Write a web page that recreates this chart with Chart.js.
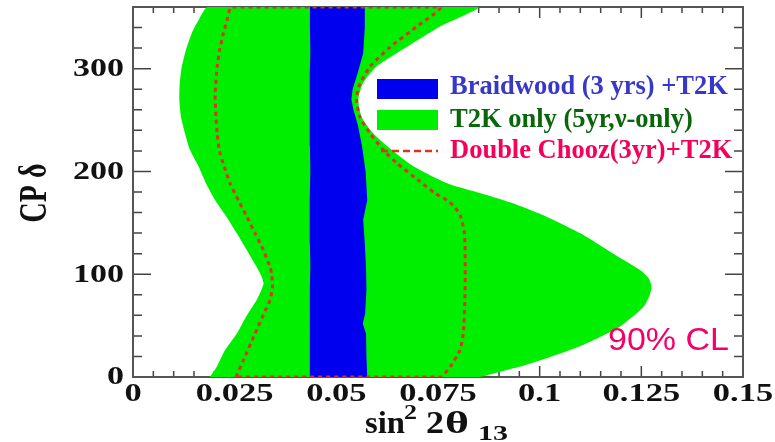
<!DOCTYPE html>
<html>
<head>
<meta charset="utf-8">
<script src="https://cdn.jsdelivr.net/npm/chart.js@4"></script>
<style>
  html, body { margin: 0; padding: 0; background: #fff; }
</style>
</head>
<body>
<canvas id="cl" width="775" height="442"></canvas>
<script>
// axis ticks
const xTicks = [0, 0.025, 0.05, 0.075, 0.1, 0.125, 0.15];
const xTickLabels = ['0', '0.025', '0.05', '0.075', '0.1', '0.125', '0.15'];
const yTicks = [0, 100, 200, 300];
const yTickLabels = ['0', '100', '200', '300'];

// T2K only (5yr, nu-only) 90% CL region: left and right edge vs CP delta
const t2kLeftDelta = [0, 10, 26, 42, 58, 75, 84, 91, 98, 107, 124, 140, 156, 172, 188, 205, 221, 237, 253, 270, 286, 302, 318, 334, 347, 360];
const t2kLeftX = [0.0189, 0.0206, 0.0226, 0.0255, 0.0277, 0.0304, 0.0315, 0.0321, 0.0316, 0.0304, 0.0279, 0.0255, 0.0230, 0.0202, 0.0180, 0.0161, 0.0140, 0.0128, 0.0118, 0.0114, 0.0115, 0.0120, 0.0130, 0.0144, 0.0161, 0.0184];
const t2kRightDelta = [0, 13, 30, 49, 68, 80, 88, 96, 104, 120, 140, 156, 169, 179, 188, 205, 221, 237, 253, 270, 286, 302, 321, 341, 360];
const t2kRightX = [0.0853, 0.0976, 0.1099, 0.1197, 0.1255, 0.1271, 0.1275, 0.1268, 0.1247, 0.1181, 0.1099, 0.1017, 0.0934, 0.0853, 0.0775, 0.0689, 0.0636, 0.0591, 0.0562, 0.0554, 0.0566, 0.0599, 0.0673, 0.0755, 0.0848];

// Braidwood (3 yrs) + T2K band
const bwDelta = [0, 20, 42, 52, 62, 85, 107, 130, 153, 172, 200, 225, 245, 260, 270, 280, 295, 315, 340, 360];
const bwLeftX = [0.0434, 0.0435, 0.0435, 0.0434, 0.0435, 0.0435, 0.0436, 0.0435, 0.0434, 0.0435, 0.0436, 0.0435, 0.0435, 0.0434, 0.0434, 0.0435, 0.0435, 0.0436, 0.0435, 0.0435];
const bwRightX = [0.0576, 0.0574, 0.0573, 0.0565, 0.0571, 0.0574, 0.0573, 0.0570, 0.0566, 0.0576, 0.0572, 0.0563, 0.0553, 0.0542, 0.0537, 0.0540, 0.0552, 0.0566, 0.0570, 0.0570];

// Double Chooz (3yr) + T2K contour
const dcLeftDelta = [0, 16, 42, 60, 75, 88, 100, 107, 124, 140, 156, 172, 188, 205, 221, 237, 253, 276, 302, 318, 334, 347, 360];
const dcLeftX = [0.0253, 0.0271, 0.0300, 0.0320, 0.0337, 0.0343, 0.0341, 0.0337, 0.0320, 0.0300, 0.0280, 0.0259, 0.0239, 0.0224, 0.0212, 0.0207, 0.0204, 0.0202, 0.0207, 0.0213, 0.0222, 0.0231, 0.0243];
const dcRightDelta = [0, 10, 26, 42, 75, 107, 140, 156, 166, 172, 179, 192, 208, 221, 237, 253, 269, 282, 302, 321, 341, 360];
const dcRightX = [0.0755, 0.0780, 0.0804, 0.0812, 0.0816, 0.0817, 0.0815, 0.0806, 0.0790, 0.0772, 0.0742, 0.0700, 0.0649, 0.0615, 0.0583, 0.0558, 0.0550, 0.0554, 0.0583, 0.0632, 0.0698, 0.0755];

const legendLabels = ['Braidwood (3 yrs) +T2K', 'T2K only (5yr,\u03bd-only)', 'Double Chooz(3yr)+T2K'];
const clLabel = '90% CL';

const GREEN = '#00ee00';
const BLUE = '#0000ee';
const RED = '#e0301e';
const SERIF = '"Liberation Serif", "Times New Roman", serif';

// closed outline: left edge bottom->top, then right edge top->bottom
function outline(leftD, leftX, rightD, rightX, close) {
    const pts = leftD.map((d, i) => ({ x: leftX[i], y: d }));
    for (let i = rightD.length - 1; i >= 0; i--) pts.push({ x: rightX[i], y: rightD[i] });
    if (close) pts.push(pts[0]);
    return pts;
}

// text stretched horizontally by sx
function wideText(ctx, text, x, y, sx, align) {
    ctx.save();
    ctx.translate(x, y);
    ctx.scale(sx, 1);
    ctx.textAlign = align;
    ctx.fillText(text, 0, 0);
    ctx.restore();
}

// text fitted between two x positions
function fitText(ctx, text, x0, x1, y, font) {
    ctx.save();
    ctx.font = font;
    const w = ctx.measureText(text).width;
    ctx.translate(x0, y);
    ctx.scale((x1 - x0) / w, 1);
    ctx.textAlign = 'left';
    ctx.fillText(text, 0, 0);
    ctx.restore();
}

const frame = {
    id: 'frame',
    beforeDatasetsDraw(chart) {
        const { ctx, chartArea: a, scales: { x, y } } = chart;
        ctx.save();
        ctx.strokeStyle = '#444';
        ctx.lineWidth = 1.5;
        ctx.beginPath();
        for (let i = 0; i <= 30; i++) {
            const px = x.getPixelForValue(i * 0.005);
            const len = i % 5 === 0 ? 11 : 6;
            ctx.moveTo(px, a.bottom); ctx.lineTo(px, a.bottom - len);
            ctx.moveTo(px, a.top); ctx.lineTo(px, a.top + len);
        }
        for (let i = 0; i <= 18; i++) {
            const py = y.getPixelForValue(i * 20);
            const len = i % 5 === 0 ? 18 : 9;
            ctx.moveTo(a.left, py); ctx.lineTo(a.left + len, py);
            ctx.moveTo(a.right, py); ctx.lineTo(a.right - len, py);
        }
        ctx.stroke();
        ctx.lineWidth = 2;
        ctx.strokeStyle = '#555';
        ctx.strokeRect(a.left, a.top, a.width, a.height);
        ctx.restore();
    },
    afterDatasetsDraw(chart) {
        const { ctx } = chart;
        ctx.save();
        // legend
        ctx.fillStyle = '#fff';
        ctx.fillRect(449, 28, 273, 155);
        ctx.fillStyle = BLUE;
        ctx.fillRect(377, 79, 61, 20);
        ctx.fillStyle = GREEN;
        ctx.fillRect(377, 110, 61, 20);
        ctx.strokeStyle = RED;
        ctx.lineWidth = 2.5;
        ctx.setLineDash([7, 4]);
        ctx.beginPath();
        ctx.moveTo(381, 151); ctx.lineTo(438, 151);
        ctx.stroke();
        ctx.setLineDash([]);
        ctx.font = 'bold 26.5px ' + SERIF;
        ctx.textAlign = 'left';
        ctx.textBaseline = 'alphabetic';
        const colors = ['#3838c8', '#0a660a', '#f5005a'];
        const baselines = [94, 126.5, 158];
        legendLabels.forEach((t, i) => {
            ctx.fillStyle = colors[i];
            ctx.fillText(t, 450, baselines[i]);
        });
        ctx.fillStyle = '#f5006a';
        fitText(ctx, clLabel, 608, 729, 350, '32px "Liberation Sans", Arial, sans-serif');
        ctx.restore();
    },
    afterDraw(chart) {
        const { ctx, scales: { x, y } } = chart;
        ctx.save();
        ctx.fillStyle = '#111';
        ctx.font = 'bold 25px ' + SERIF;
        ctx.textBaseline = 'middle';
        yTicks.forEach((v, i) => wideText(ctx, yTickLabels[i], 124, y.getPixelForValue(v) + 1, 1.36, 'right'));
        ctx.textBaseline = 'alphabetic';
        xTicks.forEach((v, i) => wideText(ctx, xTickLabels[i], x.getPixelForValue(v), 400.5, 1.38, 'center'));

        // sin^2 2theta_13
        fitText(ctx, 'sin', 365, 405, 433, 'bold 31px ' + SERIF);
        fitText(ctx, '2', 404, 417, 419, 'bold 21px ' + SERIF);
        fitText(ctx, '2', 426, 444, 433, 'bold 31px ' + SERIF);
        fitText(ctx, '\u03b8', 445, 469, 433, 'bold 31px ' + SERIF);
        fitText(ctx, '13', 478, 508, 440, 'bold 20px ' + SERIF);

        // CP delta
        ctx.save();
        ctx.font = 'bold 28px ' + SERIF;
        ctx.translate(45.5, 193);
        ctx.scale(1.4, 1);
        ctx.rotate(-Math.PI / 2);
        ctx.textAlign = 'center';
        ctx.fillText('CP \u03b4', 0, 0);
        ctx.restore();
        ctx.restore();
    }
};

new Chart(document.getElementById('cl'), {
    type: 'line',
    data: {
        datasets: [
            {
                label: legendLabels[2],
                data: outline(dcLeftDelta, dcLeftX, dcRightDelta, dcRightX, true),
                borderColor: RED,
                borderWidth: 3,
                borderDash: [4, 4],
                fill: false,
                tension: 0.2
            },
            {
                label: legendLabels[0],
                data: outline(bwDelta, bwLeftX, bwDelta, bwRightX, false),
                borderColor: 'rgba(0,0,0,0)',
                borderWidth: 0,
                backgroundColor: BLUE,
                fill: 'shape',
                tension: 0
            },
            {
                label: legendLabels[1],
                data: outline(t2kLeftDelta, t2kLeftX, t2kRightDelta, t2kRightX, false),
                borderColor: 'rgba(0,0,0,0)',
                borderWidth: 0,
                backgroundColor: GREEN,
                fill: 'shape',
                tension: 0.2
            }
        ]
    },
    options: {
        responsive: false,
        animation: false,
        layout: { padding: { left: 133, right: 32, top: 7, bottom: 65 } },
        elements: { point: { radius: 0, hoverRadius: 0 } },
        plugins: { legend: { display: false }, tooltip: { enabled: false } },
        scales: {
            x: { type: 'linear', min: 0, max: 0.15, display: false },
            y: { type: 'linear', min: 0, max: 360, display: false }
        }
    },
    plugins: [frame]
});
</script>
</body>
</html>
